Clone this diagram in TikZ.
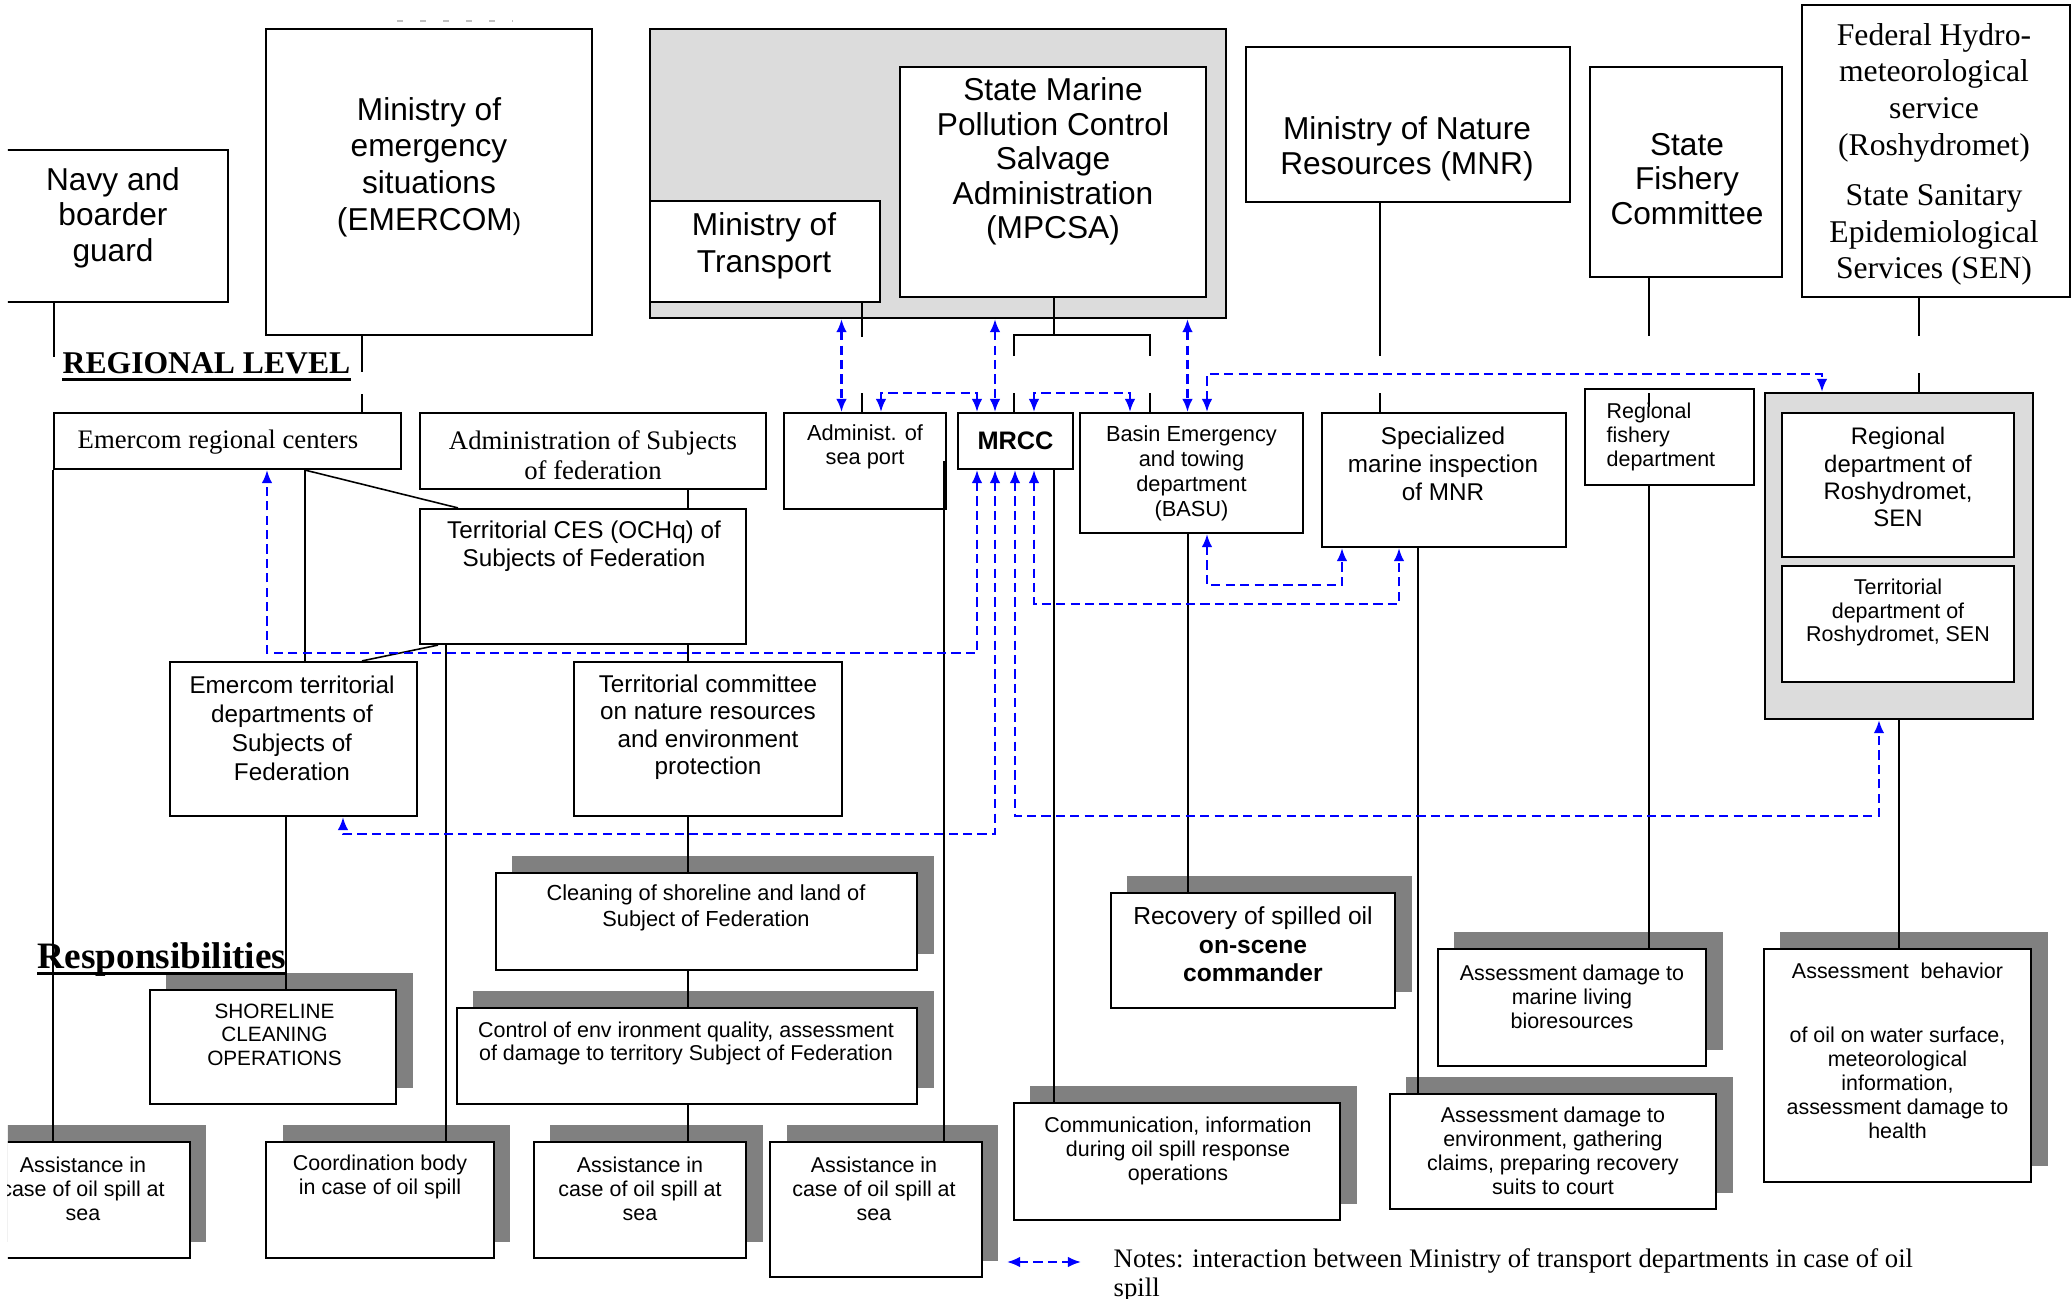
\documentclass[tikz,border=0pt]{standalone}
\usepackage{fontspec}
\setmainfont{Liberation Sans}
\newfontfamily\tnr{Liberation Serif}
\usetikzlibrary{arrows.meta,shadows}
\definecolor{panelgray}{HTML}{DCDCDC}
\definecolor{shadowgray}{HTML}{808080}

\begin{document}
\begin{tikzpicture}[x=0.01cm,y=-0.01cm]
        \tikzset{box/.style = {draw, line width=0.6pt, fill=white, inner sep=0pt}}
        \tikzset{graybox/.style = {box, fill=panelgray}}
        \tikzset{shbox/.style = {box, drop shadow={shadow xshift=0.165cm, shadow yshift=0.165cm, fill=shadowgray, opacity=1}}}
        \tikzset{wire/.style = {line width=0.45pt}}
        \tikzset{link/.style = {blue, line width=0.6pt, dash pattern=on 2.6pt off 1.5pt, >={Latex[length=3.7pt,width=3pt]}, <->}}
        \tikzset{bigtxt/.style = {font=\fontsize{9}{10.4}\selectfont, align=center, inner sep=0pt}}
        \tikzset{bigserftxt/.style = {font=\tnr\fontsize{9}{10.4}\selectfont, align=center, inner sep=0pt}}
        \tikzset{midtxt/.style = {font=\fontsize{6.9}{8}\selectfont, align=center, inner sep=0pt}}
        \tikzset{smalltxt/.style = {font=\fontsize{6.1}{6.8}\selectfont, align=center, inner sep=0pt}}
        \tikzset{serftxt/.style = {font=\tnr\fontsize{7.6}{8.5}\selectfont, inner sep=0pt}}
        \tikzset{headtxt/.style = {font=\tnr\bfseries\fontsize{9}{10}\selectfont, inner sep=0pt}}
        \useasboundingbox (0,0) rectangle (2071,1299);
        \begin{scope}
        \clip (8,0) rectangle (2071,1299);
        \draw[gray!50, line width=0.4pt, dash pattern=on 0.06cm off 0.17cm] (397,21) -- (513,21);
        \node[box, minimum width=2.33cm, minimum height=1.52cm] (navy) at (111.5,226) {};
        \node[bigtxt, font=\fontsize{9}{10.1}\selectfont] (navyT) at (113,217.5) {Navy and\\boarder\\guard};
        \node[box, minimum width=3.26cm, minimum height=3.06cm] (emercom) at (429,182) {};
        \node[bigtxt] (emercomT) at (429,167) {Ministry of\\emergency\\situations\\(EMERCOM{\fontsize{7}{8}\selectfont)}};
        \node[graybox, minimum width=5.76cm, minimum height=2.89cm] (transport) at (938,173.5) {};
        \node[box, minimum width=2.30cm, minimum height=1.01cm] (mot) at (765,251.5) {};
        \node[bigtxt] (motT) at (764,246) {Ministry of\\Transport};
        \node[box, minimum width=3.06cm, minimum height=2.30cm] (mpcsa) at (1053,182) {};
        \node[bigtxt, font=\fontsize{9}{9.8}\selectfont] (mpcsaT) at (1053,161.5) {State Marine\\Pollution Control\\Salvage\\Administration\\(MPCSA)};
        \node[box, minimum width=3.24cm, minimum height=1.55cm] (mnr) at (1408,124.5) {};
        \node[bigtxt, font=\fontsize{9}{10}\selectfont] (mnrT) at (1407,149) {Ministry of Nature\\Resources (MNR)};
        \node[box, minimum width=1.92cm, minimum height=2.10cm] (sfc) at (1686,172) {};
        \node[bigtxt, font=\fontsize{9}{9.7}\selectfont] (sfcT) at (1687,179) {State\\Fishery\\Committee};
        \node[box, minimum width=2.68cm, minimum height=2.92cm] (hydro) at (1936,151) {};
        \node[bigserftxt] (hydroT) at (1934,154.5) {Federal Hydro-\\meteorological\\service\\(Roshydromet)\\[4pt]State Sanitary\\Epidemiological\\Services (SEN)};
        \node[headtxt, anchor=base west] (lvl) at (62,373) {REGIONAL LEVEL};
        \node[box, minimum width=3.47cm, minimum height=0.56cm] (regc) at (227.5,441) {};
        \node[serftxt, anchor=west] (regcT) at (77,442) {Emercom regional centers};
        \node[box, minimum width=3.46cm, minimum height=0.76cm] (adms) at (593,451) {};
        \node[serftxt, align=center] (admsT) at (593,455) {Administration of Subjects\\of federation};
        \node[box, minimum width=3.26cm, minimum height=1.35cm] (ces) at (583,576.5) {};
        \node[midtxt] (cesT) at (584,546) {Territorial CES (OCHq) of\\Subjects of Federation};
        \node[box, minimum width=2.47cm, minimum height=1.54cm] (etd) at (293.5,739) {};
        \node[midtxt, font=\fontsize{6.9}{8.2}\selectfont] (etdT) at (292,728.5) {Emercom territorial\\departments of\\Subjects of\\Federation};
        \node[box, minimum width=2.68cm, minimum height=1.54cm] (tcom) at (708,739) {};
        \node[midtxt, font=\fontsize{6.9}{7.8}\selectfont] (tcomT) at (708,727) {Territorial committee\\on nature resources\\and environment\\protection};
        \node[box, minimum width=1.62cm, minimum height=0.96cm] (port) at (865,461) {};
        \node[smalltxt, font=\fontsize{6.2}{6.8}\selectfont] (portT) at (865,447) {Administ. of\\sea port};
        \node[box, minimum width=1.15cm, minimum height=0.56cm, font=\bfseries\fontsize{7.2}{8}\selectfont] (mrcc) at (1015.5,441) {MRCC};
        \node[box, minimum width=2.23cm, minimum height=1.20cm, align=center, font=\fontsize{6.2}{7.1}\selectfont] (basu) at (1191.5,473) {Basin Emergency\\and towing\\department\\(BASU)};
        \node[box, minimum width=2.44cm, minimum height=1.34cm] (smi) at (1444,480) {};
        \node[midtxt] (smiT) at (1443,464) {Specialized\\marine inspection\\of MNR};
        \node[box, minimum width=1.69cm, minimum height=0.96cm] (rfd) at (1669.5,437) {};
        \node[smalltxt, align=left, anchor=west, font=\fontsize{6.1}{6.7}\selectfont] (rfdT) at (1606,437) {Regional\\fishery\\department};
        \node[graybox, minimum width=2.68cm, minimum height=3.26cm] (rosh) at (1899,556) {};
        \node[box, minimum width=2.32cm, minimum height=1.44cm] (rrd) at (1898,485) {};
        \node[midtxt, font=\fontsize{6.8}{7.7}\selectfont] (rrdT) at (1898,477) {Regional\\department of\\Roshydromet,\\SEN};
        \node[box, minimum width=2.32cm, minimum height=1.16cm] (trd) at (1898,624) {};
        \node[smalltxt] (trdT) at (1898,612.5) {Territorial\\department of\\Roshydromet, SEN};
        \node[headtxt, font=\tnr\bfseries\fontsize{10.6}{12}\selectfont, anchor=base west] (resp) at (37,968) {Responsibilities};
        \node[shbox, minimum width=4.21cm, minimum height=0.97cm] (clean) at (706.5,921.5) {};
        \node[smalltxt, font=\fontsize{6.2}{7.4}\selectfont] (cleanT) at (706,908) {Cleaning of shoreline and land of\\Subject of Federation};
        \node[shbox, minimum width=4.60cm, minimum height=0.96cm] (ctrl) at (687,1056) {};
        \node[smalltxt, font=\fontsize{6.1}{6.6}\selectfont] (ctrlT) at (686,1043.5) {Control of env ironment quality, assessment\\of damage to territory Subject of Federation};
        \node[shbox, minimum width=2.46cm, minimum height=1.14cm] (shore) at (273,1047) {};
        \node[smalltxt, font=\fontsize{5.9}{6.7}\selectfont] (shoreT) at (274.5,1034.5) {SHORELINE\\CLEANING\\OPERATIONS};
        \node[shbox, minimum width=2.115cm, minimum height=1.16cm] (as1) at (83.75,1200) {};
        \node[smalltxt] (as1T) at (83,1189) {Assistance in\\case of oil spill at\\sea};
        \node[shbox, minimum width=2.275cm, minimum height=1.16cm] (as2) at (380,1200) {};
        \node[smalltxt] (as2T) at (380,1177) {Coordination body\\in case of oil spill};
        \node[shbox, minimum width=2.12cm, minimum height=1.16cm] (as3) at (640,1200) {};
        \node[smalltxt] (as3T) at (640,1189) {Assistance in\\case of oil spill at\\sea};
        \node[shbox, minimum width=2.115cm, minimum height=1.35cm] (as4) at (876,1209.5) {};
        \node[smalltxt] (as4T) at (874,1189) {Assistance in\\case of oil spill at\\sea};
        \node[shbox, minimum width=3.26cm, minimum height=1.17cm] (comm) at (1177,1161.5) {};
        \node[smalltxt] (commT) at (1178,1151) {Communication, information\\during oil spill response\\operations};
        \node[shbox, minimum width=2.845cm, minimum height=1.15cm] (recov) at (1253,950.5) {};
        \node[midtxt, font=\fontsize{7}{8.1}\selectfont] (recovT) at (1253,944.5) {Recovery of spilled oil\\\textbf{on-scene}\\\textbf{commander}};
        \node[shbox, minimum width=2.68cm, minimum height=1.17cm] (amr) at (1572,1007.5) {};
        \node[smalltxt] (amrT) at (1572,997) {Assessment damage to\\marine living\\bioresources};
        \node[shbox, minimum width=3.26cm, minimum height=1.15cm] (aenv) at (1553,1151.5) {};
        \node[smalltxt] (aenvT) at (1553,1151) {Assessment damage to\\environment, gathering\\claims, preparing recovery\\suits to court};
        \node[shbox, minimum width=2.67cm, minimum height=2.33cm] (abeh) at (1897.5,1065.5) {};
        \node[smalltxt] (abehT) at (1897.5,1051) {Assessment\ \ behavior\\[11.4pt]of oil on water surface,\\meteorological\\information,\\assessment damage to\\health};
        \node[serftxt, align=left, anchor=north west, font=\tnr\fontsize{7.6}{8.2}\selectfont] (notes) at (1113,1248) {Notes: interaction between Ministry of transport departments in case of oil\\spill};
        \coordinate (navyend) at (54,357);
        \coordinate (emA) at (362,372);
        \coordinate (emB) at (362,394);
        \coordinate (motA) at (862,337);
        \coordinate (motB) at (862,393);
        \coordinate (mpA) at (1054,335);
        \coordinate (mpL) at (1014,356);
        \coordinate (mpR) at (1150,356);
        \coordinate (mpL2) at (1014,393);
        \coordinate (mpR2) at (1150,393);
        \coordinate (mnrA) at (1380,356);
        \coordinate (mnrB) at (1380,393);
        \coordinate (sfcA) at (1649,336);
        \coordinate (sfcB) at (1649,393);
        \coordinate (sfcC) at (1649,407);
        \coordinate (hyA) at (1919,336);
        \coordinate (hyB) at (1919,373);
        \coordinate (nl) at (1007,1262);
        \coordinate (nr) at (1081,1262);
        \draw[line width=0.85pt] ([yshift=-1.85pt]lvl.base west) -- ([yshift=-1.85pt]lvl.base east);
        \draw[line width=1pt] ([yshift=-1.6pt]resp.base west) -- ([yshift=-1.6pt]resp.base east);
        \draw[wire] (54,0 |- navy.south) to (navyend);
        \draw[wire] (regc.south west) to (regc.south west |- as1.north);
        \draw[wire] (362,0 |- emercom.south) to (emA);
        \draw[wire] (emB) to (emB |- regc.north);
        \draw[wire] (862,0 |- mot.south) to (motA);
        \draw[wire] (motB) to (motB |- port.north);
        \draw[wire] (1054,0 |- mpcsa.south) to (mpA);
        \draw[wire] (mpL) |- (mpA) -| (mpR);
        \draw[wire] (mpL2) to (mpL2 |- mrcc.north);
        \draw[wire] (mpR2) to (mpR2 |- basu.north);
        \draw[wire] (1380,0 |- mnr.south) to (mnrA);
        \draw[wire] (mnrB) to (mnrB |- smi.north);
        \draw[wire] (1649,0 |- sfc.south) to (sfcA);
        \draw[wire] (sfcB) to (sfcC);
        \draw[wire] (1649,0 |- rfd.south) to (1649,0 |- amr.north);
        \draw[wire] (1919,0 |- hydro.south) to (hyA);
        \draw[wire] (hyB) to (hyB |- rosh.north);
        \draw[wire] (305,0 |- regc.south) to (305,0 |- etd.north);
        \draw[wire] (305,0 |- regc.south) to (458,0 |- ces.north);
        \draw[wire] (688,0 |- adms.south) to (688,0 |- ces.north);
        \draw[wire] (438,0 |- ces.south) to (362,0 |- etd.north);
        \draw[wire] (446,0 |- ces.south) to (446,0 |- as2.north);
        \draw[wire] (688,0 |- ces.south) to (688,0 |- tcom.north);
        \draw[wire] (286,0 |- etd.south) to (286,0 |- shore.north);
        \draw[wire] (688,0 |- tcom.south) to (688,0 |- clean.north);
        \draw[wire] (688,0 |- clean.south) to (688,0 |- ctrl.north);
        \draw[wire] (688,0 |- ctrl.south) to (688,0 |- as3.north);
        \draw[wire] (944,0 |- port.east) to (944,0 |- as4.north);
        \draw[wire] (1054,0 |- mrcc.south) to (1054,0 |- comm.north);
        \draw[wire] (1188,0 |- basu.south) to (1188,0 |- recov.north);
        \draw[wire] (1418,0 |- smi.south) to (1418,0 |- aenv.north);
        \draw[wire] (rosh.south) to (rosh.south |- abeh.north);
        \draw[link] (841.5,0 |- transport.south) to (841.5,0 |- port.north);
        \draw[link] (995,0 |- transport.south) to (995,0 |- mrcc.north);
        \draw[link] (1187.5,0 |- transport.south) to (1187.5,0 |- basu.north);
        \draw[link] (881,0 |- port.north) |- (977,393) -- (977,0 |- mrcc.north);
        \draw[link] (1034,0 |- mrcc.north) |- (1130,393) -- (1130,0 |- basu.north);
        \draw[link] (1207,0 |- basu.north) |- (1822,374) -- (1822,0 |- rosh.north);
        \draw[link] (1207,0 |- basu.south) |- (1342,585) -- (1342,0 |- smi.south);
        \draw[link] (1034,0 |- mrcc.south) |- (1399,604) -- (1399,0 |- smi.south);
        \draw[link] (977,0 |- mrcc.south) |- (267,653) -- (267,0 |- regc.south);
        \draw[link] (995,0 |- mrcc.south) |- (343,834) -- (343,0 |- etd.south);
        \draw[link] (1015,0 |- mrcc.south) |- (1879,816) -- (1879,0 |- rosh.south);
        \draw[link] (nl) to (nr);
        \end{scope}
\end{tikzpicture}
\end{document}
